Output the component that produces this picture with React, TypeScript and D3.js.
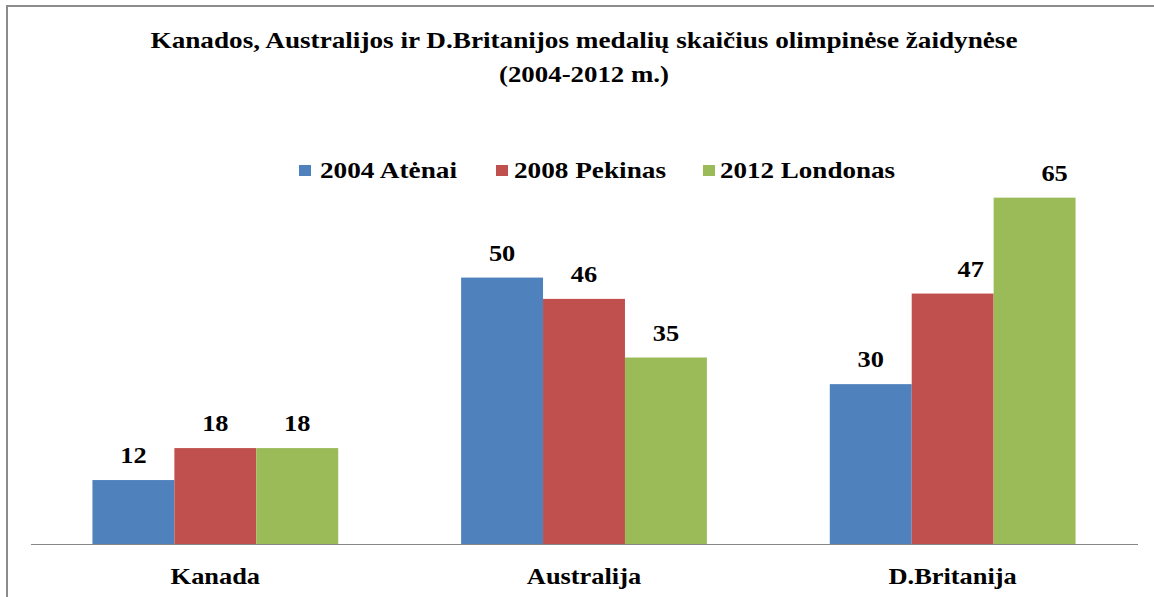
import React from "react";
import * as d3 from "d3";

// ---- data ----
const categories = ["Kanada", "Australija", "D.Britanija"];
const seriesNames = ["2004 Atėnai", "2008 Pekinas", "2012 Londonas"];
const athens2004 = [12, 50, 30];
const beijing2008 = [18, 46, 47];
const london2012 = [18, 35, 65];
const titleLines = [
  "Kanados, Australijos ir D.Britanijos medalių skaičius olimpinėse žaidynėse",
  "(2004-2012 m.)",
];

const seriesValues = [athens2004, beijing2008, london2012];
const colors = ["#4F81BD", "#C0504D", "#9BBB59"];

const W = 1154;
const H = 597;
const FONT = "'Liberation Serif', 'Times New Roman', serif";

export default function App() {
  const plotLeft = 31;
  const plotRight = 1137;
  const baseY = 544;
  const topY = 171;

  const x0 = d3
    .scaleBand<string>()
    .domain(categories)
    .range([plotLeft, plotRight])
    .paddingInner(1 / 3)
    .paddingOuter(1 / 6);
  const x1 = d3
    .scaleBand<string>()
    .domain(seriesNames)
    .range([0, x0.bandwidth()]);
  const y = d3.scaleLinear().domain([0, 70]).range([baseY, topY]);

  // manual label nudges as in the reference (labels moved right in Excel)
  const labelNudgeX: Record<string, number> = {
    "D.Britanija|2008 Pekinas": 18,
    "D.Britanija|2012 Londonas": 20,
  };

  const titleWidths = [867, 170];
  const titleBaselines = [48, 82];
  const cx = (plotLeft + plotRight) / 2;

  const legendLayout = [
    { sq: 299, tx: 320, w: 137 },
    { sq: 496, tx: 514, w: 152 },
    { sq: 703, tx: 720, w: 175 },
  ];

  const stretch = 1.1;

  return (
    <svg
      width={W}
      height={H}
      style={{ position: "absolute", left: 0, top: 0, display: "block", background: "#fff" }}
    >
      <rect x={0} y={0} width={W} height={H} fill="#fff" />
      <rect x={7} y={6} width={W + 20} height={H + 20} fill="#fff" stroke="#8c8c8c" strokeWidth={2} />

      {titleLines.map((t, i) => (
        <text
          key={i}
          x={cx}
          y={titleBaselines[i]}
          textAnchor="middle"
          fontFamily={FONT}
          fontWeight="bold"
          fontSize={24}
          textLength={titleWidths[i]}
          lengthAdjust="spacingAndGlyphs"
          fill="#000"
        >
          {t}
        </text>
      ))}

      {seriesNames.map((s, i) => (
        <g key={s}>
          <rect x={legendLayout[i].sq} y={165} width={12} height={11} fill={colors[i]} />
          <text
            x={legendLayout[i].tx}
            y={178}
            fontFamily={FONT}
            fontWeight="bold"
            fontSize={23}
            textLength={legendLayout[i].w}
            lengthAdjust="spacingAndGlyphs"
            fill="#000"
          >
            {s}
          </text>
        </g>
      ))}

      {categories.map((c, ci) => (
        <g key={c} transform={`translate(${x0(c)},0)`}>
          {seriesNames.map((s, si) => {
            const v = seriesValues[si][ci];
            const bx = x1(s)!;
            const bw = x1.bandwidth();
            const by = y(v);
            const lx = bx + bw / 2 + (labelNudgeX[`${c}|${s}`] || 0);
            return (
              <g key={s}>
                <rect x={bx} y={by} width={bw} height={baseY - by} fill={colors[si]} />
                <text
                  transform={`translate(${lx},${by - 17}) scale(${stretch},1)`}
                  textAnchor="middle"
                  fontFamily={FONT}
                  fontWeight="bold"
                  fontSize={24}
                  fill="#000"
                >
                  {v}
                </text>
              </g>
            );
          })}
        </g>
      ))}

      <line x1={plotLeft} x2={plotRight + 1} y1={baseY + 0.5} y2={baseY + 0.5} stroke="#878787" strokeWidth={1.2} />

      {categories.map((c) => (
        <text
          key={c}
          transform={`translate(${x0(c)! + x0.bandwidth() / 2},584) scale(${stretch},1)`}
          textAnchor="middle"
          fontFamily={FONT}
          fontWeight="bold"
          fontSize={24}
          fill="#000"
        >
          {c}
        </text>
      ))}
    </svg>
  );
}
